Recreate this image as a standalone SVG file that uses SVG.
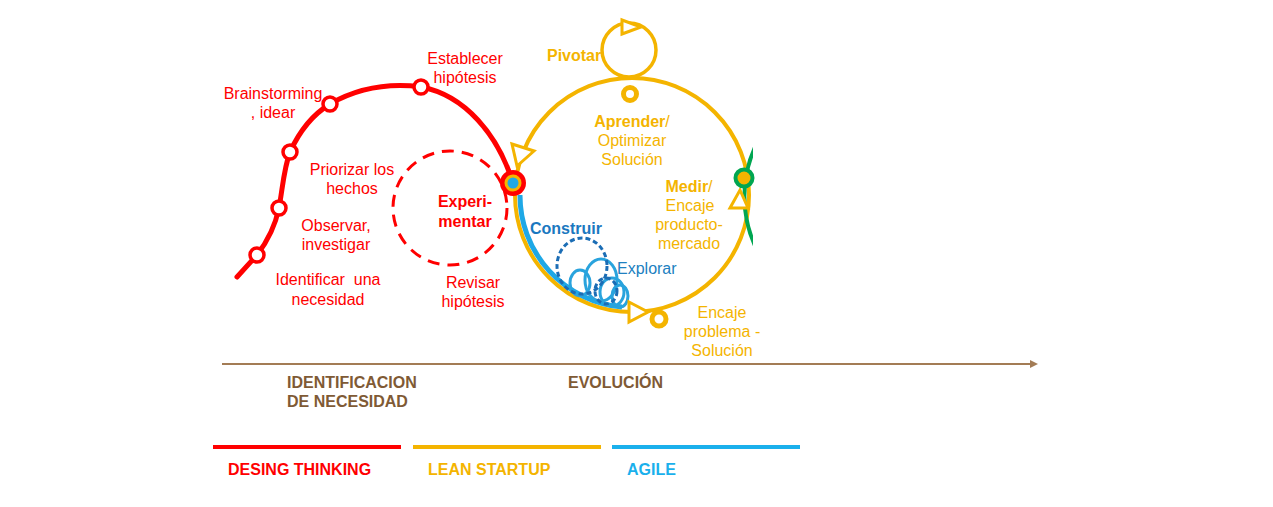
<svg xmlns="http://www.w3.org/2000/svg" width="1273" height="507" viewBox="0 0 1273 507">
<style>
text{font-family:"Liberation Sans",Arial,sans-serif;font-size:16px}
.r{fill:#ff0000}
.y{fill:#f4b400}
.b{font-weight:bold}
.br{fill:#7f5a35;font-weight:bold}
.c{text-anchor:middle}
.rnode{fill:#fff;stroke:#ff0000;stroke-width:3.5}
.ynode{fill:#fff;stroke:#f4b400;stroke-width:5}
.yarr{fill:#fff;stroke:#f4b400;stroke-width:3;stroke-linejoin:miter}
.lb{fill:none;stroke:#29a3dd;stroke-width:3}
.db{fill:none;stroke:#1b6db5;stroke-width:3;stroke-dasharray:5 3}
</style>
<defs>
<clipPath id="clipR"><rect x="0" y="0" width="753" height="507"/></clipPath>
<marker id="ax" markerWidth="8" markerHeight="8" refX="6" refY="4" orient="auto" markerUnits="userSpaceOnUse">
<path d="M0,0 L8,4 L0,8 Z" fill="#a37c55"/>
</marker>
</defs>

<g id="connectors">
<!-- red design thinking curve -->
<path d="M237,277 L257,255 C270,238 276,222 279,208 C283,185 284,168 290,152 C300,130 312,115 330,104 C358,88 390,83 421,87 C465,95 498,135 513,183" fill="none" stroke="#ff0000" stroke-width="5" stroke-linecap="round"/>
<!-- dashed red circle -->
<circle cx="450" cy="208" r="57" fill="none" stroke="#ff0000" stroke-width="3" stroke-dasharray="12 8"/>
<!-- pivot loop -->
<circle cx="629" cy="50" r="27" fill="none" stroke="#f4b400" stroke-width="3.5"/>
<!-- big yellow circle -->
<circle cx="632" cy="195" r="117" fill="none" stroke="#f4b400" stroke-width="4"/>
<!-- green circle clipped -->
<g clip-path="url(#clipR)">
<path d="M756,145 A120,120 0 0 0 756,248" fill="none" stroke="#00a651" stroke-width="4"/>
</g>
<!-- blue agile path -->
<path d="M520,195 A112,112 0 0 0 622,307" fill="none" stroke="#1ea8e6" stroke-width="5"/>
<!-- blue loops -->
<ellipse class="lb" cx="580" cy="283" rx="10" ry="13"/>
<ellipse class="lb" cx="601" cy="280" rx="16" ry="21"/>
<ellipse class="lb" cx="612" cy="292" rx="12" ry="14"/>
<ellipse class="lb" cx="620" cy="296" rx="8" ry="11"/>
<ellipse class="db" cx="582" cy="266" rx="25" ry="28"/>
<ellipse class="db" cx="606" cy="291" rx="11" ry="13"/>
<!-- yellow arrows -->
<path class="yarr" d="M512,144 L534,151 L517,166 Z"/>
<path class="yarr" d="M629,302 L648,312 L629,322 Z"/>
<path class="yarr" d="M730,208 L740,190 L748,208 Z"/>
<path class="yarr" d="M622,20 L641,27 L622,34 Z"/>
<!-- axis -->
<line x1="222" y1="364" x2="1036" y2="364" stroke="#a37c55" stroke-width="2" marker-end="url(#ax)"/>
</g>

<g id="node-identificar"><circle class="rnode" cx="257" cy="255" r="7"/><text class="r c" x="328" y="285">Identificar&#160; una</text><text class="r c" x="328" y="305">necesidad</text></g>
<g id="node-observar"><circle class="rnode" cx="279" cy="208" r="7"/><text class="r c" x="336" y="231">Observar,</text><text class="r c" x="336" y="250">investigar</text></g>
<g id="node-priorizar"><circle class="rnode" cx="290" cy="152" r="7"/><text class="r c" x="352" y="175">Priorizar los</text><text class="r c" x="352" y="194">hechos</text></g>
<g id="node-brainstorming"><circle class="rnode" cx="330" cy="104" r="7"/><text class="r c" x="273" y="99">Brainstorming</text><text class="r c" x="273" y="118">, idear</text></g>
<g id="node-establecer"><circle class="rnode" cx="421" cy="87" r="7"/><text class="r c" x="465" y="64">Establecer</text><text class="r c" x="465" y="83">hipótesis</text></g>
<g id="node-experimentar"><text class="r b c" x="465" y="207">Experi-</text><text class="r b c" x="465" y="227">mentar</text></g>
<g id="node-revisar"><text class="r c" x="473" y="288">Revisar</text><text class="r c" x="473" y="307">hipótesis</text></g>
<g id="node-hub"><circle cx="513" cy="183" r="13" fill="#ff0000"/><circle cx="513" cy="183" r="8.5" fill="#f4b400"/><circle cx="513" cy="183" r="5.5" fill="#1ea8e6"/></g>
<g id="node-pivotar"><text class="y b" x="547" y="61">Pivotar</text></g>
<g id="node-aprender"><circle class="ynode" cx="630" cy="94" r="6.5"/><text class="y c" x="632" y="127"><tspan class="b">Aprender</tspan>/</text><text class="y c" x="632" y="146">Optimizar</text><text class="y c" x="632" y="165">Solución</text></g>
<g id="node-medir"><circle cx="744" cy="178" r="8.5" fill="#f4b400" stroke="#00a651" stroke-width="4"/><text class="y c" x="689" y="192"><tspan class="b">Medir</tspan>/</text><text class="y c" x="690" y="211">Encaje</text><text class="y c" x="689" y="230">producto-</text><text class="y c" x="689" y="249">mercado</text></g>
<g id="node-construir"><text class="b" x="530" y="234" fill="#1a78c0">Construir</text></g>
<g id="node-explorar"><text x="617" y="274" fill="#2080c0">Explorar</text></g>
<g id="node-encaje"><circle class="ynode" cx="659" cy="319" r="7"/><text class="y c" x="722" y="318">Encaje</text><text class="y c" x="722" y="337">problema -</text><text class="y c" x="722" y="356">Solución</text></g>
<g id="axis-labels"><text class="br" x="287" y="388">IDENTIFICACION</text><text class="br" x="287" y="407">DE NECESIDAD</text><text class="br" x="568" y="388">EVOLUCIÓN</text></g>
<g id="legend">
<line x1="213" y1="447" x2="401" y2="447" stroke="#ff0000" stroke-width="4"/>
<line x1="413" y1="447" x2="601" y2="447" stroke="#f4b400" stroke-width="4"/>
<line x1="612" y1="447" x2="800" y2="447" stroke="#1ab0ec" stroke-width="4"/>
<text class="b" x="228" y="475" fill="#ff0000">DESING THINKING</text>
<text class="b" x="428" y="475" fill="#f4b400">LEAN STARTUP</text>
<text class="b" x="627" y="475" fill="#1ab0ec">AGILE</text>
</g>
</svg>
